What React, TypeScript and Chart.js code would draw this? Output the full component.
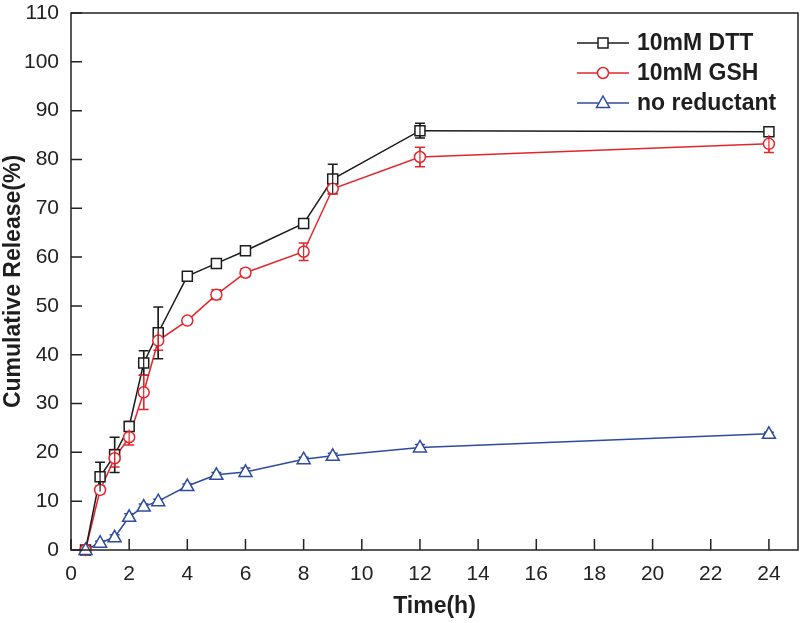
import React, { useEffect, useRef } from "react";
import { Chart, registerables } from "chart.js";

Chart.register(...registerables);

const timeH = [0.5, 1, 1.5, 2, 2.5, 3, 4, 5, 6, 8, 9, 12, 24];
const dttValues = [0, 15.0, 19.5, 25.3, 38.3, 44.5, 56.1, 58.7, 61.3, 66.9, 76.0, 85.9, 85.7];
const dttErrors = [0.3, 3.0, 3.6, 1.0, 2.5, 5.3, 0.5, 0.5, 0.6, 0.6, 3.0, 1.5, 0.8];
const gshValues = [0, 12.3, 18.8, 23.1, 32.3, 42.9, 47.0, 52.3, 56.8, 61.1, 74.0, 80.5, 83.2];
const gshErrors = [0.3, 0.8, 1.8, 1.6, 3.5, 2.0, 0.5, 1.0, 0.8, 1.8, 1.0, 2.0, 1.8];
const noneValues = [0, 1.5, 2.6, 6.8, 8.9, 10.0, 13.1, 15.4, 16.0, 18.6, 19.3, 21.0, 23.8];
const noneErrors = [0.2, 0.3, 0.5, 0.6, 0.5, 0.4, 0.4, 0.5, 0.8, 0.4, 0.5, 0.6, 0.3];

const seriesNames = ["10mM DTT", "10mM GSH", "no reductant"];
const seriesColors = ["#1c1c1c", "#e3262b", "#2f4b9d"];
const seriesShapes = ["rect", "circle", "triangle"];
const seriesValues = [dttValues, gshValues, noneValues];
const seriesErrors = [dttErrors, gshErrors, noneErrors];

const xTitle = "Time(h)";
const yTitle = "Cumulative Release(%)";

const FONT = "'Liberation Sans', Arial, Helvetica, sans-serif";
const AXIS = "#222222";

function drawMarker(ctx: CanvasRenderingContext2D, shape: string, x: number, y: number, color: string) {
  ctx.save();
  ctx.strokeStyle = color;
  ctx.fillStyle = "#ffffff";
  ctx.lineWidth = 1.5;
  ctx.beginPath();
  if (shape === "rect") {
    ctx.rect(x - 5, y - 5, 10, 10);
  } else if (shape === "circle") {
    ctx.arc(x, y, 5.5, 0, Math.PI * 2);
  } else {
    ctx.moveTo(x, y - 7);
    ctx.lineTo(x + 6.5, y + 4.5);
    ctx.lineTo(x - 6.5, y + 4.5);
    ctx.closePath();
  }
  ctx.fill();
  ctx.stroke();
  ctx.restore();
}

const framePlugin = {
  id: "frameTicks",
  afterDraw(chart: any) {
    const { ctx, chartArea } = chart;
    const xs = chart.scales.x;
    const ys = chart.scales.y;
    ctx.save();
    ctx.strokeStyle = AXIS;
    ctx.lineWidth = 1.5;
    ctx.strokeRect(chartArea.left, chartArea.top, chartArea.right - chartArea.left, chartArea.bottom - chartArea.top);
    ctx.beginPath();
    xs.ticks.forEach((t: any) => {
      const px = xs.getPixelForValue(t.value);
      ctx.moveTo(px, chartArea.bottom);
      ctx.lineTo(px, chartArea.bottom - 11);
    });
    ys.ticks.forEach((t: any) => {
      const py = ys.getPixelForValue(t.value);
      ctx.moveTo(chartArea.left, py);
      ctx.lineTo(chartArea.left + 11, py);
    });
    ctx.stroke();
    ctx.restore();
  },
};

const errorPlugin = {
  id: "errorBars",
  afterDatasetsDraw(chart: any) {
    const { ctx } = chart;
    const xs = chart.scales.x;
    const ys = chart.scales.y;
    ctx.save();
    ctx.lineWidth = 1.5;
    seriesValues.forEach((vals, si) => {
      ctx.strokeStyle = seriesColors[si];
      ctx.beginPath();
      vals.forEach((v, i) => {
        const e = seriesErrors[si][i];
        const px = xs.getPixelForValue(timeH[i]);
        const pt = ys.getPixelForValue(v + e);
        const pb = ys.getPixelForValue(v - e);
        ctx.moveTo(px, pt);
        ctx.lineTo(px, pb);
        ctx.moveTo(px - 5, pt);
        ctx.lineTo(px + 5, pt);
        ctx.moveTo(px - 5, pb);
        ctx.lineTo(px + 5, pb);
      });
      ctx.stroke();
    });
    ctx.restore();
    seriesValues.forEach((vals, si) => {
      vals.forEach((v, i) => {
        drawMarker(ctx, seriesShapes[si], xs.getPixelForValue(timeH[i]), ys.getPixelForValue(v), seriesColors[si]);
      });
    });
    ctx.save();
    ctx.lineWidth = 1.2;
    seriesValues.forEach((vals, si) => {
      ctx.strokeStyle = seriesColors[si];
      ctx.beginPath();
      vals.forEach((v, i) => {
        const e = seriesErrors[si][i];
        if (e < 1.2) return;
        const px = xs.getPixelForValue(timeH[i]);
        ctx.moveTo(px, ys.getPixelForValue(v + e));
        ctx.lineTo(px, ys.getPixelForValue(v - e));
      });
      ctx.stroke();
    });
    ctx.restore();
  },
};

const legendPlugin = {
  id: "customLegend",
  afterDraw(chart: any) {
    const { ctx, chartArea } = chart;
    ctx.save();
    ctx.font = `bold 23px ${FONT}`;
    ctx.textBaseline = "middle";
    ctx.textAlign = "left";
    seriesNames.forEach((name, i) => {
      const y = chartArea.top + 30 + i * 30;
      const x0 = chartArea.right - 221;
      const x1 = chartArea.right - 169;
      ctx.strokeStyle = seriesColors[i];
      ctx.lineWidth = 1.5;
      ctx.beginPath();
      ctx.moveTo(x0, y);
      ctx.lineTo(x1, y);
      ctx.stroke();
      drawMarker(ctx, seriesShapes[i], (x0 + x1) / 2, y, seriesColors[i]);
      ctx.fillStyle = "#1e1e1e";
      ctx.fillText(name, chartArea.right - 161, y + 1);
    });
    ctx.restore();
  },
};

export default function App() {
  const ref = useRef<HTMLCanvasElement | null>(null);
  useEffect(() => {
    document.body.style.margin = "0";
    const canvas = ref.current;
    if (!canvas) return;
    const chart = new Chart(canvas, {
      type: "line",
      data: {
        datasets: seriesValues.map((vals, si) => ({
          label: seriesNames[si],
          data: vals.map((v, i) => ({ x: timeH[i], y: v })),
          borderColor: seriesColors[si],
          backgroundColor: "#ffffff",
          borderWidth: 1.5,
          pointRadius: 0,
          pointHoverRadius: 0,
          tension: 0,
        })),
      },
      options: {
        animation: false,
        responsive: false,
        devicePixelRatio: 1,
        layout: { padding: { top: 13, right: 2, left: 0, bottom: 0 } },
        plugins: {
          legend: { display: false },
          tooltip: { enabled: false },
        },
        scales: {
          x: {
            type: "linear",
            min: 0,
            max: 25,
            afterFit(scale: any) {
              scale.height = 73;
              scale.paddingLeft = 0;
              scale.paddingRight = 0;
            },
            ticks: {
              stepSize: 2,
              includeBounds: false,
              color: AXIS,
              padding: 12,
              maxRotation: 0,
              font: { family: FONT, size: 21 },
            },
            grid: { display: false, drawTicks: false },
            border: { display: false },
            title: {
              display: true,
              text: xTitle,
              color: "#1e1e1e",
              font: { family: FONT, size: 23, weight: "bold" },
              padding: { top: 0, bottom: 3 },
            },
          },
          y: {
            type: "linear",
            min: 0,
            max: 110,
            afterFit(scale: any) {
              scale.width = 71;
              scale.paddingTop = 0;
              scale.paddingBottom = 0;
            },
            ticks: {
              stepSize: 10,
              color: AXIS,
              padding: 12,
              font: { family: FONT, size: 21 },
            },
            grid: { display: false, drawTicks: false },
            border: { display: false },
            title: {
              display: true,
              text: yTitle,
              color: "#1e1e1e",
              font: { family: FONT, size: 23, weight: "bold" },
              padding: { top: 0, bottom: 0 },
            },
          },
        },
      },
      plugins: [errorPlugin, framePlugin, legendPlugin],
    } as any);
    return () => chart.destroy();
  }, []);
  return (
    <div style={{ width: 800, height: 623 }}>
      <canvas ref={ref} width={800} height={623} style={{ display: "block" }} />
    </div>
  );
}
